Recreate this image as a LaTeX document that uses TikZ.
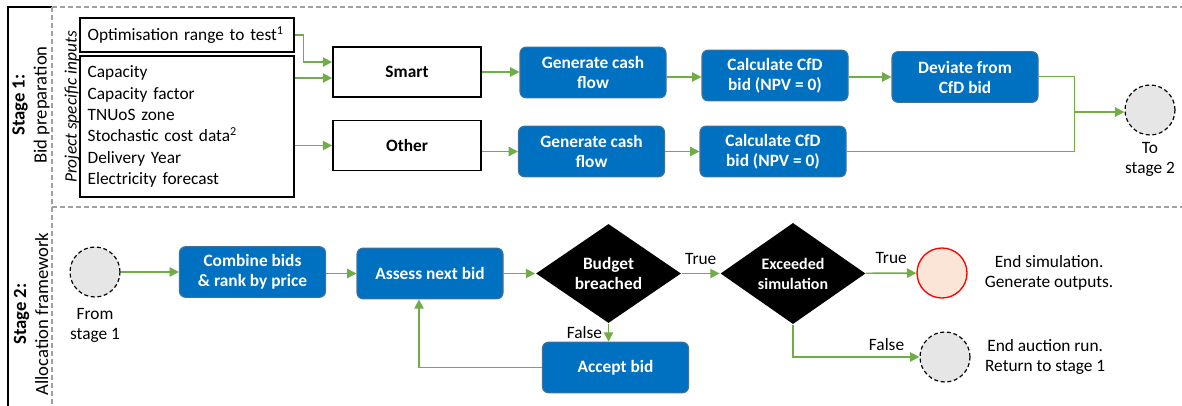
\documentclass[tikz,border=0pt]{standalone}
\usepackage{fontspec}
\setmainfont{Carlito}
\usetikzlibrary{arrows.meta,shapes.geometric}

\definecolor{boxblue}{HTML}{0070C0}
\definecolor{boxedge}{HTML}{41719C}
\definecolor{arrowgreen}{HTML}{70AD47}
\definecolor{lanegrey}{HTML}{A0A0A0}
\definecolor{portalgrey}{HTML}{E7E6E6}
\definecolor{endfill}{HTML}{FBE5D6}

\newcommand{\txtsize}{\fontsize{13}{15}\selectfont}

\begin{document}
\begin{tikzpicture}[x=0.75pt,y=-0.75pt,line width=1.1pt,>={Triangle[length=7pt,width=7pt]},
        every node/.style={font=\txtsize},
        flow/.style={->,draw=arrowgreen},
        joinline/.style={draw=arrowgreen,line width=0.75pt},
        lane/.style={draw=lanegrey,dash pattern=on 4pt off 2pt,line width=1.1pt},
        inbox/.style={draw,line width=0.9pt,text width=149pt,inner xsep=5.75pt,align=left,minimum width=160.5pt},
        choicebox/.style={draw,line width=1.3pt,minimum width=111pt,minimum height=37.5pt,font=\txtsize\bfseries},
        bluebox/.style={draw=boxedge,fill=boxblue,line width=0.8pt,rounded corners=4.5pt,text=white,
            font=\txtsize\bfseries,align=center,minimum width=109.5pt,minimum height=38pt},
        decision/.style={diamond,fill=black,text=white,font=\txtsize\bfseries,align=center,
            minimum width=109pt,minimum height=67pt,inner sep=0pt},
        portal/.style={circle,draw,dash pattern=on 3pt off 2pt,line width=0.9pt,fill=portalgrey,minimum size=37.5pt}]

        \useasboundingbox (0,0) rectangle (1182,406);

        % lanes
        \draw[line width=1.5pt] (8,406) -- (8,7) -- (52,7);
        \draw[lane] (52,7) -- (1182,7);
        \draw[lane] (52,207) -- (1182,207);
        \draw[lane] (52,7) -- (52,406);

        \node[rotate=90,align=center,font=\fontsize{14}{16.5}\selectfont] (Lane_1) at (31,105) {\textbf{Stage 1:}\\Bid preparation};
        \node[rotate=90,align=center,font=\fontsize{14}{16.5}\selectfont] (Lane_2) at (31,314) {\textbf{Stage 2:}\\Allocation framework};

        % stage 1
        \node[rotate=90,font=\txtsize\itshape] (Psi) at (72,107) {Project specific inputs};
        \node[inbox,minimum height=25.5pt] (Opt) at (187,35) {Optimisation range to test\textsuperscript{1}};
        \node[inbox,minimum height=105.75pt,inner ysep=4pt,font=\fontsize{13}{16}\selectfont] (Inp) at (187,126.5)
            {Capacity\\Capacity factor\\TNUoS zone\\Stochastic cost data\textsuperscript{2}\\Delivery Year\\Electricity forecast};

        \node[choicebox] (Smart) at (407,72) {Smart};
        \node[choicebox] (Other) at (407,145.5) {Other};

        \node[bluebox] (Gen_1) at (593,72.5) {Generate cash\\flow};
        \node[bluebox] (Gen_2) at (591.5,151.5) {Generate cash\\flow};
        \node[bluebox] (Calc_1) at (775,75.5) {Calculate CfD\\bid (NPV = 0)};
        \node[bluebox] (Calc_2) at (773,151.5) {Calculate CfD\\bid (NPV = 0)};
        \node[bluebox] (Dev) at (965,77) {Deviate from\\CfD bid};

        \node[portal,label={[align=center,label distance=1pt]below:{To\\stage 2}}] (To2) at (1150,110) {};

        \coordinate (Smart_in) at ([yshift=-4.5pt]Smart.west);
        \coordinate (Join) at (1074,112);

        \draw[flow] (Opt.east) -- ++(9,0) |- ([yshift=7.5pt]Smart.west);
        \draw[flow] (Inp.east |- Smart_in) -- (Smart_in);
        \draw[flow] (Inp.east |- Other.west) -- (Other.west);
        \draw[flow] (Smart.east) -- (Smart.east -| Gen_1.west);
        \draw[flow] (Other.east |- Gen_2.west) -- (Gen_2.west);
        \draw[flow] (Gen_1.east |- Dev.west) -- (Calc_1.west |- Dev.west);
        \draw[flow] (Gen_2.east) -- (Calc_2.west);
        \draw[flow] (Calc_1.east |- Dev.west) -- (Dev.west);
        \draw[joinline] (Dev.east) -| (Join);
        \draw[joinline] (Calc_2.east) -| (Join);
        \draw[flow] (Join) -- (Join -| To2.west);

        % stage 2
        \node[portal,label={[align=center,label distance=4pt]below:{From\\stage 1}}] (From1) at (95,272) {};
        \node[bluebox] (Comb) at (252.5,272) {Combine bids\\\& rank by price};
        \node[bluebox] (Assess) at (430,273.5) {Assess next bid};
        \node[decision] (Budget) at (608.5,273.5) {Budget\\breached};
        \node[decision,font=\fontsize{12}{15}\selectfont\bfseries] (Exceed) at (793,273.5) {Exceeded\\simulation};
        \node[circle,draw=red,fill=endfill,line width=1pt,minimum size=37.5pt,
            label={[align=center,label distance=9pt]right:{End simulation.\\Generate outputs.}}] (End) at (942,273) {};
        \node[bluebox] (Accept) at (615.5,367.5) {Accept bid};
        \node[portal,label={[align=center,label distance=7pt]right:{End auction run.\\Return to stage 1}}] (Ret) at (945,357) {};

        \draw[flow] (From1) -- (Comb);
        \draw[flow] (Comb.east |- Assess.west) -- (Assess.west);
        \draw[flow] (Assess) -- (Budget);
        \draw[flow] (Budget) -- node[above=3pt] {True} (Exceed);
        \draw[flow] (Exceed) -- node[above=3pt] {True} (End);
        \draw[flow] (Budget.south) -- node[left=1pt] {False} (Budget.south |- Accept.north);
        \draw[flow] (Accept.west) -| ([xshift=-8.25pt]Assess.south);
        \draw[flow] (Exceed.south) |- node[pos=0.87,above=1pt] {False} (Ret.west);

    \end{tikzpicture}
\end{document}
